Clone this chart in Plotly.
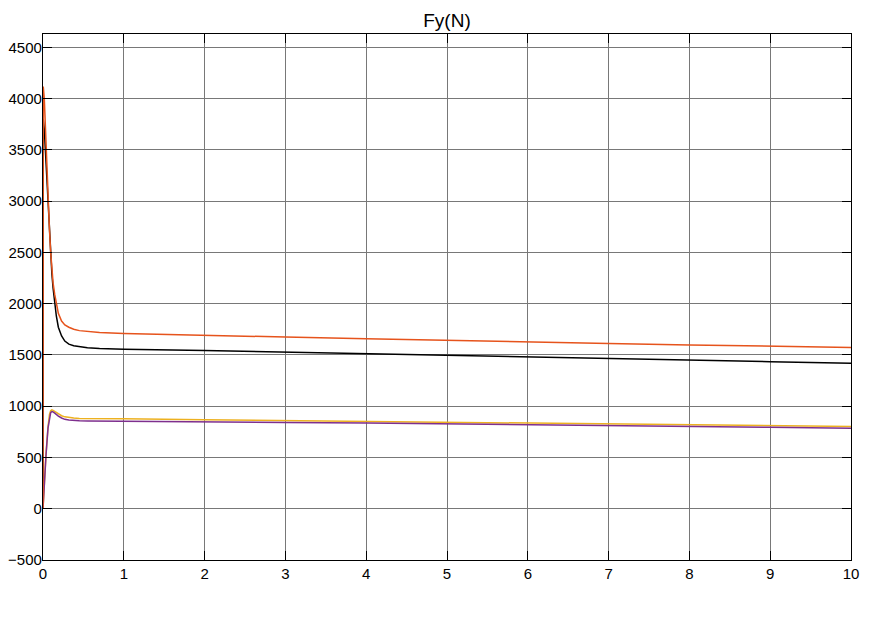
import plotly.graph_objects as go

# time samples (s)
t = [0, 0.003, 0.016, 0.029, 0.037, 0.062, 0.08, 0.095, 0.11, 0.125, 0.145, 0.165, 0.19,
     0.23, 0.27, 0.32, 0.38, 0.45, 0.55, 0.7, 1, 2, 3, 4, 5, 6, 7, 8, 9, 10]

fy_orange = [0, 4117, 4000, 3700, 3500, 3000, 2720, 2500, 2340, 2200, 2090, 2000, 1905,
             1830, 1793, 1770, 1750, 1737, 1727, 1719, 1710, 1690, 1674, 1658, 1641, 1626, 1612, 1598, 1585, 1572]
fy_black = [0, 3800, 3700, 3500, 3380, 2950, 2680, 2450, 2290, 2150, 2000, 1880, 1770,
            1685, 1635, 1605, 1590, 1580, 1570, 1563, 1556, 1543, 1527, 1510, 1492, 1477, 1462, 1448, 1434, 1420]
fy_yellow = [0, 50, 250, 420, 530, 800, 920, 955, 965, 960, 950, 938, 925,
             907, 896, 889, 884, 881, 879, 878, 877, 868, 860, 852, 845, 836, 828, 820, 812, 803]
fy_purple = [0, 45, 240, 412, 520, 786, 900, 938, 948, 945, 933, 918, 903,
             885, 872, 865, 860, 857, 856, 855.5, 855, 848, 841, 835, 828, 819, 811, 803, 795, 786]

x_ticks = list(range(0, 11))
y_ticks = list(range(-500, 5000, 500))

series = [
    (fy_black, "#000000"),
    (fy_yellow, "#EDB120"),
    (fy_purple, "#7E2F8E"),
    (fy_orange, "#E6531C"),
]

fig = go.Figure()
for ys, c in series:
    fig.add_trace(go.Scatter(x=t, y=ys, mode="lines", line=dict(color=c, width=1.5),
                             showlegend=False, hoverinfo="skip"))

axis_common = dict(
    showline=True, linecolor="black", linewidth=1.2, mirror="allticks",
    ticks="inside", ticklen=9, tickcolor="black", tickwidth=1,
    showgrid=True, gridcolor="rgb(120,120,120)", gridwidth=1,
    zeroline=False, automargin=False,
    tickfont=dict(family="Liberation Sans, Arial", size=15, color="black"),
)

W, H = 867, 611
fig.update_layout(
    width=W, height=H,
    margin=dict(l=35, r=24, t=26, b=59, autoexpand=False),
    paper_bgcolor="white", plot_bgcolor="white",
    title=dict(text="Fy(N)", x=(447 - 8) / W, xanchor="center", y=1 - 12 / H, yref="container",
               yanchor="middle", font=dict(family="Liberation Sans, Arial", size=19, color="black")),
    xaxis=dict(range=[0, 10], tickvals=x_ticks, **axis_common),
    yaxis=dict(range=[-500, 4630], tickvals=y_ticks, ticklabelstandoff=-3, **axis_common),
)

fig.write_html("out.html")
